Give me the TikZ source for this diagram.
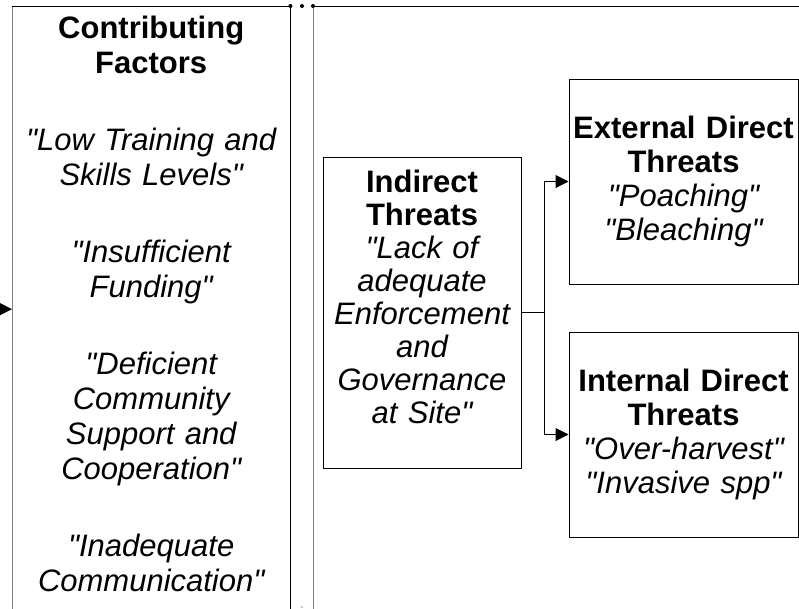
\documentclass[tikz,border=0pt]{standalone}
\usepackage{fontspec}
\setmainfont{Liberation Sans}[Ligatures=TeXOff]
\usepackage{tikz}
\usetikzlibrary{arrows.meta,positioning}
\tikzstyle{lane} = [rectangle, inner sep=0pt, anchor=north west]
\tikzstyle{threat} = [rectangle, draw=black, line width=1pt, align=center, inner sep=0pt, font=\fontsize{31pt}{34pt}\selectfont\itshape]
\tikzstyle{txt} = [align=center, inner sep=0pt, font=\fontsize{31pt}{34pt}\selectfont\itshape]
\tikzstyle{arrow} = [->, >={Triangle[length=13pt,width=13pt]}, line width=1pt]
\newcommand{\headtxt}[1]{{\upshape\bfseries #1}}

\begin{document}
\begin{tikzpicture}[x=1pt, y=-1pt]
      \clip (0,0) rectangle (799,608);
      %lanes
      \node[lane, minimum width=278pt, minimum height=606pt](factlane) at (12,6) {};
      \node[lane, minimum width=500pt, minimum height=606pt](threatlane) at (313,6) {};
      \draw[line width=1pt, black!50] (factlane.north west) -- (factlane.south west);
      \draw[line width=1pt] (factlane.north west) -- (factlane.north east) -- (factlane.south east);
      \draw[line width=1pt, black!50] (threatlane.north west) -- (threatlane.south west);
      \draw[line width=1pt] (threatlane.north west) -- (threatlane.north east);
      \fill (factlane.north east) circle (2pt) (302,6) circle (2pt) (threatlane.north west) circle (2pt);
      \fill[black!35] (302,607) circle (1pt);
      %contributing factors
      \node[txt, text width=278pt, font=\fontsize{31pt}{35pt}\selectfont\itshape, below=10pt of factlane.north](factors){\headtxt{Contributing}\\ \headtxt{Factors}\\[42pt]
        "Low Training and\\ Skills Levels"\\[42pt]
        "Insufficient\\ Funding"\\[42pt]
        "Deficient\\ Community\\ Support and\\ Cooperation"\\[42pt]
        "Inadequate\\ Communication"};
      %threat boxes
      \node[threat, minimum width=198pt, minimum height=311pt](indirect) at (422,312.5) {};
      \node[txt, text width=198pt, font=\fontsize{31pt}{33pt}\selectfont\itshape, below=13pt of indirect.north](indirecttxt){\headtxt{Indirect}\\ \headtxt{Threats}\\
        "Lack of\\ adequate\\ Enforcement\\ and\\ Governance\\ at Site"};
      \node[threat, text width=229pt, minimum height=205pt](ext) at (683.5,181.5) {\headtxt{External Direct}\\ \headtxt{Threats}\\ "Poaching"\\ "Bleaching"};
      \node[threat, text width=229pt, minimum height=205pt](int) at (683.5,434.5) {\headtxt{Internal Direct}\\ \headtxt{Threats}\\ "Over-harvest"\\ "Invasive spp"};
      %connectors
      \coordinate (feed) at (-30,309);
      \draw [arrow] (feed) -- (factlane.west);
      \draw [arrow] (indirect.east) -- ++(23,0) |- (ext.west);
      \draw [arrow] (indirect.east) -- ++(23,0) |- (int.west);
\end{tikzpicture}
\end{document}
